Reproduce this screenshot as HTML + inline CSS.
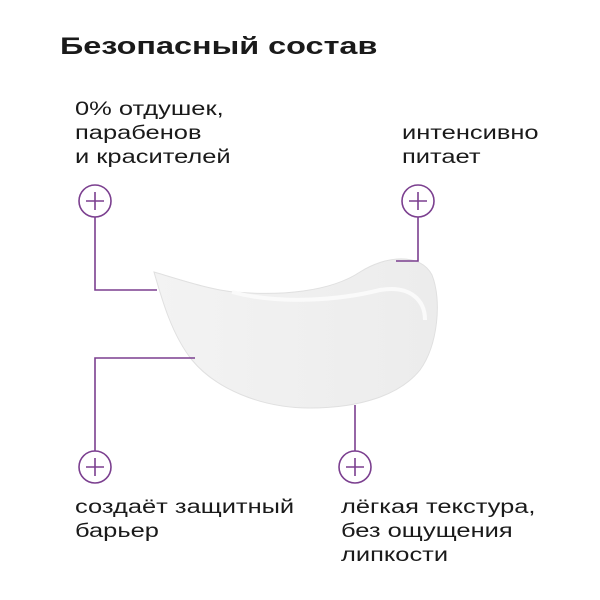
<!DOCTYPE html>
<html><head><meta charset="utf-8"><style>
body{margin:0;width:600px;height:600px;background:#fff;position:relative;font-family:"Liberation Sans",sans-serif;color:#1a1a1a;overflow:hidden}
.t{position:absolute;font-size:19px;line-height:24px;transform:scaleX(1.34);transform-origin:0 0;white-space:nowrap}
</style></head><body>
<div class="t" style="left:60px;top:32px;font-size:24px;font-weight:bold;line-height:30px;transform:scaleX(1.35)">Безопасный состав</div>
<div class="t" style="left:75px;top:98px">0% отдушек,<br>парабенов<br>и красителей</div>
<div class="t" style="left:402px;top:122px">интенсивно<br>питает</div>
<div class="t" style="left:75px;top:496px">создаёт защитный<br>барьер</div>
<div class="t" style="left:341px;top:496px">лёгкая текстура,<br>без ощущения<br>липкости</div>
<svg width="600" height="600" style="position:absolute;left:0;top:0">
<defs><linearGradient id="g" x1="0" y1="0" x2="1" y2="0"><stop offset="0" stop-color="#f3f3f3"/><stop offset="1" stop-color="#ececec"/></linearGradient></defs>
<path d="M154,272 C175,278 210,290 235,292 C280,296 330,292 360,272 C385,256 420,252 432,275 C442,300 438,345 420,370 C400,395 360,408 310,408 C260,408 215,388 192,360 C172,335 162,300 154,272 Z" fill="url(#g)" stroke="#e0e0e0" stroke-width="1"/>
<path d="M232,292 C280,305 340,300 380,290 C410,285 425,300 425,320" fill="none" stroke="#fafafa" stroke-width="4"/>
<g fill="none" stroke="#7b3f8f" stroke-width="1.6">
<circle cx="95" cy="201" r="16"/><path d="M86,201h18M95,192v18"/>
<path d="M95,217V290H157"/>
<circle cx="418" cy="201" r="16"/><path d="M409,201h18M418,192v18"/>
<path d="M418,217V261H396"/>
<circle cx="95" cy="467" r="16"/><path d="M86,467h18M95,458v18"/>
<path d="M95,451V358H195"/>
<circle cx="355" cy="467" r="16"/><path d="M346,467h18M355,458v18"/>
<path d="M355,451V405"/>
</g></svg>
</body></html>
